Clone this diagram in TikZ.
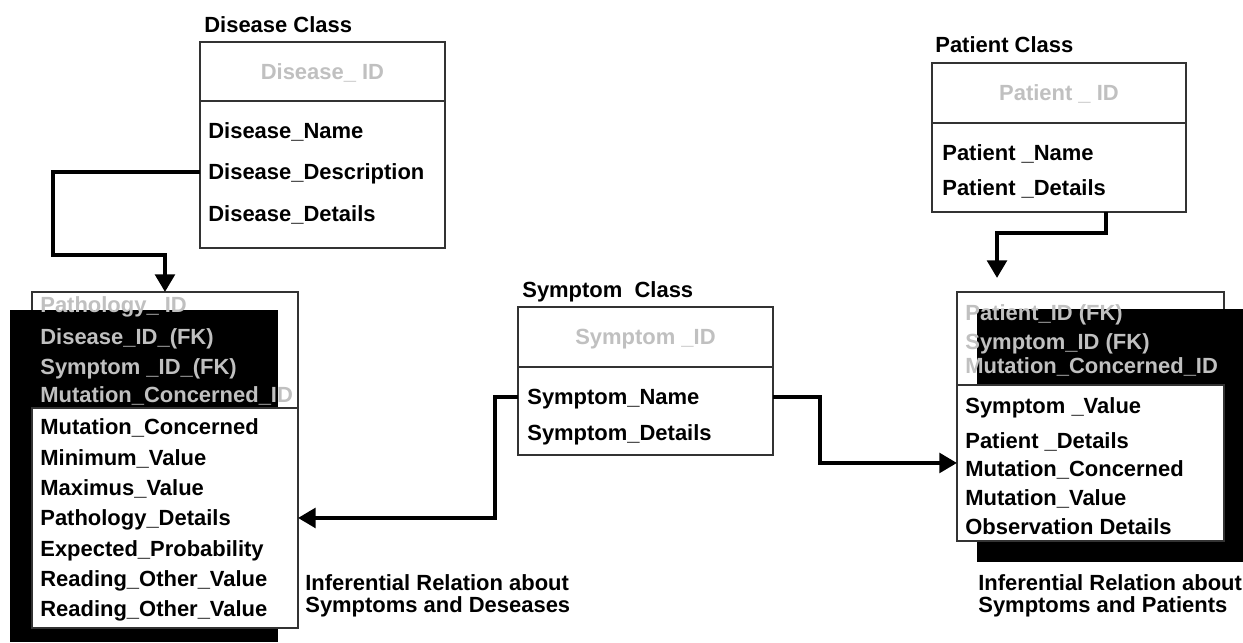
\documentclass[tikz,border=0pt]{standalone}
\usepackage{fontspec}
\setmainfont{Liberation Sans}
\usetikzlibrary{arrows.meta}
\definecolor{keygray}{RGB}{192,192,192}
\tikzset{
  compart/.style={draw=black!80, line width=0.7pt, fill=white, inner sep=0pt, outer sep=0pt, anchor=north west},
  shadow/.style={fill=black, inner sep=0pt, outer sep=0pt, anchor=north west},
  row/.style={anchor=west, inner sep=0pt, text height=9pt, text depth=0pt, font=\bfseries\fontsize{12.5}{14}\selectfont},
  keyrow/.style={row, text=keygray},
  link/.style={line width=2.4pt, -{Triangle[length=10pt, width=11pt]}},
}
\begin{document}
\begin{tikzpicture}[x=0.02cm, y=-0.02cm]
	\useasboundingbox (0,0) rectangle (1243,642);

	% Disease class
	\node[row] (distitle) at (204,25) {Disease Class};
	\node[compart, minimum width=4.9cm, minimum height=1.18cm] (distop) at (200,42) {};
	\node[compart, minimum width=4.9cm, minimum height=2.94cm] (dislow) at (distop.south west) {};
	\node[keyrow, anchor=center] (diskey) at (distop) {Disease\_ ID};
	\node[row] (disname) at (208,131) {Disease\_Name};
	\node[row] (disdesc) at (208,172) {Disease\_Description};
	\node[row] (disdet) at (208,214) {Disease\_Details};

	% Patient class
	\node[row] (pattitle) at (935,45) {Patient Class};
	\node[compart, minimum width=5.08cm, minimum height=1.2cm] (pattop) at (932,63) {};
	\node[compart, minimum width=5.08cm, minimum height=1.78cm] (patlow) at (pattop.south west) {};
	\node[keyrow, anchor=center] (patkey) at (pattop) {Patient \_ ID};
	\node[row] (patname) at (942,153) {Patient \_Name};
	\node[row] (patdet) at (942,188) {Patient \_Details};

	% Symptom class
	\node[row] (symtitle) at (522,290) {Symptom~~Class};
	\node[compart, minimum width=5.1cm, minimum height=1.2cm] (symtop) at (518,307) {};
	\node[compart, minimum width=5.1cm, minimum height=1.76cm] (symlow) at (symtop.south west) {};
	\node[keyrow, anchor=center] (symkey) at (symtop) {Symptom \_ID};
	\node[row] (symname) at (527,397) {Symptom\_Name};
	\node[row] (symdet) at (527,433) {Symptom\_Details};

	% symptoms and diseases
	\node[compart, minimum width=5.32cm, minimum height=2.32cm] (pathtop) at (32,292) {};
	\node[shadow, minimum width=5.36cm, minimum height=6.64cm] (pathshade) at (10,310) {};
	\node[compart, minimum width=5.32cm, minimum height=4.4cm] (pathlow) at (pathtop.south west) {};
	\foreach \y/\t [count=\i] in {305/Pathology\_ ID, 337/Disease\_ID\_(FK), 367/Symptom \_ID\_(FK), 395/Mutation\_Concerned\_ID}
		\node[keyrow] (pathkey\i) at (40,\y) {\t};
	\foreach \t [count=\i] in {Mutation\_Concerned, Minimum\_Value, Maximus\_Value, Pathology\_Details, Expected\_Probability, Reading\_Other\_Value, Reading\_Other\_Value}
		\node[row] (pathrow\i) at (40,{427+30.3*(\i-1)}) {\t};
	\node[row] (pathcap1) at (305,583) {Inferential Relation about};
	\node[row] (pathcap2) at (305,605) {Symptoms and Deseases};

	% symptoms and patients
	\node[compart, minimum width=5.34cm, minimum height=1.86cm] (reltop) at (957,292) {};
	\node[shadow, minimum width=5.32cm, minimum height=5.06cm] (relshade) at (977,309) {};
	\node[compart, minimum width=5.34cm, minimum height=3.12cm] (rellow) at (reltop.south west) {};
	\foreach \y/\t [count=\i] in {313/Patient\_ID (FK), 342/Symptom\_ID (FK), 366/Mutation\_Concerned\_ID}
		\node[keyrow] (relkey\i) at (965,\y) {\t};
	\foreach \y/\t [count=\i] in {406/Symptom \_Value, 441/Patient \_Details, 469/Mutation\_Concerned, 498/Mutation\_Value, 527/Observation Details}
		\node[row] (relrow\i) at (965,\y) {\t};
	\node[row] (relcap1) at (978,583) {Inferential Relation about};
	\node[row] (relcap2) at (978,605) {Symptoms and Patients};

	% links
	\coordinate (relin) at (997,278);
	\draw[link] (disdesc -| dislow.west) -| ++(-147,83) -| (pathtop.north);
	\draw[link] (patdet.east |- patlow.south) -- ++(0,21) -| (relin);
	\draw[link] (symname -| symlow.west) -- ++(-23,0) |- (pathlow.east);
	\draw[link] (symname -| symlow.east) -- ++(47,0) |- (rellow.west);
\end{tikzpicture}
\end{document}
